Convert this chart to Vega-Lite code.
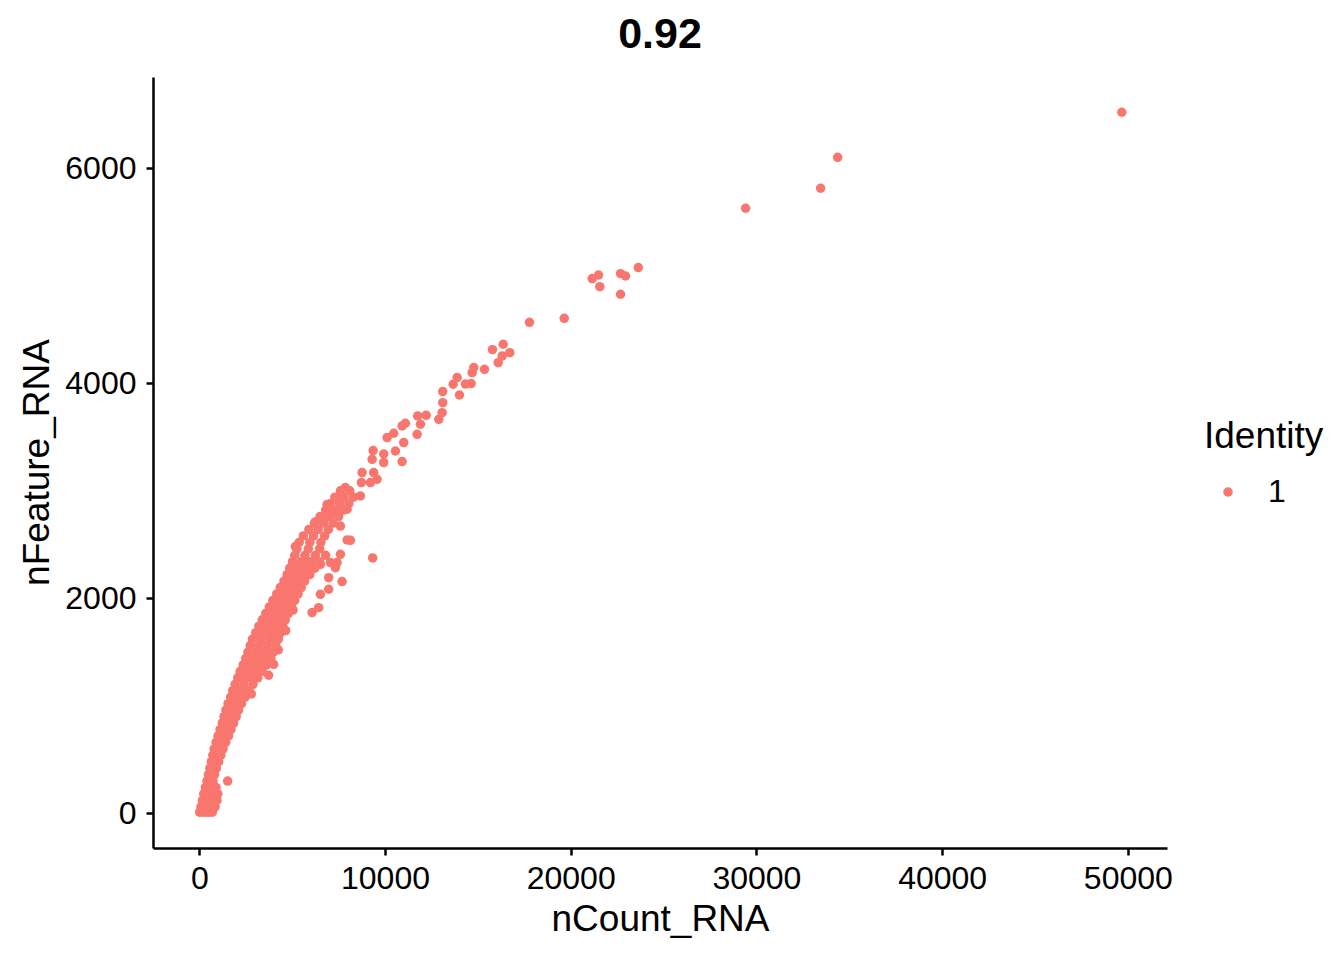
{
  "$schema": "https://vega.github.io/schema/vega-lite/v6.json",
  "width": 1014,
  "height": 771,
  "autosize": "none",
  "padding": {"left": 153, "top": 77, "right": 177, "bottom": 112},
  "background": "#FFFFFF",
  "config": {"font": "Liberation Sans", "view": {"stroke": null}},
  "title": {"text": "0.92", "fontSize": 43, "fontWeight": "bold", "anchor": "middle", "baseline": "alphabetic", "offset": 26, "dy": 40, "color": "#000000"},
  "data": {"values": [
    {"nCount_RNA": 20, "nFeature_RNA": 10, "ident": "1"},
    {"nCount_RNA": 180, "nFeature_RNA": 10, "ident": "1"},
    {"nCount_RNA": 350, "nFeature_RNA": 10, "ident": "1"},
    {"nCount_RNA": 520, "nFeature_RNA": 10, "ident": "1"},
    {"nCount_RNA": 700, "nFeature_RNA": 10, "ident": "1"},
    {"nCount_RNA": 90, "nFeature_RNA": 60, "ident": "1"},
    {"nCount_RNA": 260, "nFeature_RNA": 60, "ident": "1"},
    {"nCount_RNA": 430, "nFeature_RNA": 60, "ident": "1"},
    {"nCount_RNA": 620, "nFeature_RNA": 60, "ident": "1"},
    {"nCount_RNA": 850, "nFeature_RNA": 60, "ident": "1"},
    {"nCount_RNA": 160, "nFeature_RNA": 120, "ident": "1"},
    {"nCount_RNA": 330, "nFeature_RNA": 120, "ident": "1"},
    {"nCount_RNA": 500, "nFeature_RNA": 120, "ident": "1"},
    {"nCount_RNA": 650, "nFeature_RNA": 120, "ident": "1"},
    {"nCount_RNA": 950, "nFeature_RNA": 120, "ident": "1"},
    {"nCount_RNA": 240, "nFeature_RNA": 180, "ident": "1"},
    {"nCount_RNA": 400, "nFeature_RNA": 180, "ident": "1"},
    {"nCount_RNA": 560, "nFeature_RNA": 180, "ident": "1"},
    {"nCount_RNA": 700, "nFeature_RNA": 180, "ident": "1"},
    {"nCount_RNA": 1000, "nFeature_RNA": 180, "ident": "1"},
    {"nCount_RNA": 330, "nFeature_RNA": 240, "ident": "1"},
    {"nCount_RNA": 490, "nFeature_RNA": 240, "ident": "1"},
    {"nCount_RNA": 680, "nFeature_RNA": 240, "ident": "1"},
    {"nCount_RNA": 900, "nFeature_RNA": 240, "ident": "1"},
    {"nCount_RNA": 410, "nFeature_RNA": 300, "ident": "1"},
    {"nCount_RNA": 570, "nFeature_RNA": 300, "ident": "1"},
    {"nCount_RNA": 740, "nFeature_RNA": 300, "ident": "1"},
    {"nCount_RNA": 490, "nFeature_RNA": 360, "ident": "1"},
    {"nCount_RNA": 650, "nFeature_RNA": 360, "ident": "1"},
    {"nCount_RNA": 820, "nFeature_RNA": 360, "ident": "1"},
    {"nCount_RNA": 570, "nFeature_RNA": 420, "ident": "1"},
    {"nCount_RNA": 740, "nFeature_RNA": 420, "ident": "1"},
    {"nCount_RNA": 920, "nFeature_RNA": 420, "ident": "1"},
    {"nCount_RNA": 650, "nFeature_RNA": 480, "ident": "1"},
    {"nCount_RNA": 840, "nFeature_RNA": 480, "ident": "1"},
    {"nCount_RNA": 1040, "nFeature_RNA": 480, "ident": "1"},
    {"nCount_RNA": 730, "nFeature_RNA": 540, "ident": "1"},
    {"nCount_RNA": 940, "nFeature_RNA": 540, "ident": "1"},
    {"nCount_RNA": 1160, "nFeature_RNA": 540, "ident": "1"},
    {"nCount_RNA": 800, "nFeature_RNA": 600, "ident": "1"},
    {"nCount_RNA": 1040, "nFeature_RNA": 600, "ident": "1"},
    {"nCount_RNA": 1280, "nFeature_RNA": 600, "ident": "1"},
    {"nCount_RNA": 900, "nFeature_RNA": 660, "ident": "1"},
    {"nCount_RNA": 1160, "nFeature_RNA": 660, "ident": "1"},
    {"nCount_RNA": 1420, "nFeature_RNA": 660, "ident": "1"},
    {"nCount_RNA": 1010, "nFeature_RNA": 720, "ident": "1"},
    {"nCount_RNA": 1290, "nFeature_RNA": 720, "ident": "1"},
    {"nCount_RNA": 1570, "nFeature_RNA": 720, "ident": "1"},
    {"nCount_RNA": 1120, "nFeature_RNA": 780, "ident": "1"},
    {"nCount_RNA": 1410, "nFeature_RNA": 780, "ident": "1"},
    {"nCount_RNA": 1710, "nFeature_RNA": 780, "ident": "1"},
    {"nCount_RNA": 1240, "nFeature_RNA": 840, "ident": "1"},
    {"nCount_RNA": 1530, "nFeature_RNA": 840, "ident": "1"},
    {"nCount_RNA": 1850, "nFeature_RNA": 840, "ident": "1"},
    {"nCount_RNA": 1330, "nFeature_RNA": 900, "ident": "1"},
    {"nCount_RNA": 1650, "nFeature_RNA": 900, "ident": "1"},
    {"nCount_RNA": 1990, "nFeature_RNA": 900, "ident": "1"},
    {"nCount_RNA": 1430, "nFeature_RNA": 960, "ident": "1"},
    {"nCount_RNA": 1770, "nFeature_RNA": 960, "ident": "1"},
    {"nCount_RNA": 2110, "nFeature_RNA": 960, "ident": "1"},
    {"nCount_RNA": 1550, "nFeature_RNA": 1020, "ident": "1"},
    {"nCount_RNA": 1900, "nFeature_RNA": 1020, "ident": "1"},
    {"nCount_RNA": 2270, "nFeature_RNA": 1020, "ident": "1"},
    {"nCount_RNA": 1690, "nFeature_RNA": 1080, "ident": "1"},
    {"nCount_RNA": 2080, "nFeature_RNA": 1080, "ident": "1"},
    {"nCount_RNA": 2460, "nFeature_RNA": 1080, "ident": "1"},
    {"nCount_RNA": 2800, "nFeature_RNA": 1110, "ident": "1"},
    {"nCount_RNA": 1800, "nFeature_RNA": 1140, "ident": "1"},
    {"nCount_RNA": 2230, "nFeature_RNA": 1140, "ident": "1"},
    {"nCount_RNA": 2670, "nFeature_RNA": 1140, "ident": "1"},
    {"nCount_RNA": 1930, "nFeature_RNA": 1200, "ident": "1"},
    {"nCount_RNA": 2400, "nFeature_RNA": 1200, "ident": "1"},
    {"nCount_RNA": 2890, "nFeature_RNA": 1200, "ident": "1"},
    {"nCount_RNA": 2070, "nFeature_RNA": 1260, "ident": "1"},
    {"nCount_RNA": 2430, "nFeature_RNA": 1260, "ident": "1"},
    {"nCount_RNA": 2790, "nFeature_RNA": 1260, "ident": "1"},
    {"nCount_RNA": 3150, "nFeature_RNA": 1260, "ident": "1"},
    {"nCount_RNA": 2200, "nFeature_RNA": 1320, "ident": "1"},
    {"nCount_RNA": 2600, "nFeature_RNA": 1320, "ident": "1"},
    {"nCount_RNA": 3000, "nFeature_RNA": 1320, "ident": "1"},
    {"nCount_RNA": 3380, "nFeature_RNA": 1320, "ident": "1"},
    {"nCount_RNA": 2360, "nFeature_RNA": 1380, "ident": "1"},
    {"nCount_RNA": 2780, "nFeature_RNA": 1380, "ident": "1"},
    {"nCount_RNA": 3200, "nFeature_RNA": 1380, "ident": "1"},
    {"nCount_RNA": 3620, "nFeature_RNA": 1380, "ident": "1"},
    {"nCount_RNA": 2500, "nFeature_RNA": 1440, "ident": "1"},
    {"nCount_RNA": 2950, "nFeature_RNA": 1440, "ident": "1"},
    {"nCount_RNA": 3400, "nFeature_RNA": 1440, "ident": "1"},
    {"nCount_RNA": 3850, "nFeature_RNA": 1440, "ident": "1"},
    {"nCount_RNA": 2620, "nFeature_RNA": 1500, "ident": "1"},
    {"nCount_RNA": 3080, "nFeature_RNA": 1500, "ident": "1"},
    {"nCount_RNA": 3540, "nFeature_RNA": 1500, "ident": "1"},
    {"nCount_RNA": 3990, "nFeature_RNA": 1500, "ident": "1"},
    {"nCount_RNA": 4250, "nFeature_RNA": 1520, "ident": "1"},
    {"nCount_RNA": 2740, "nFeature_RNA": 1560, "ident": "1"},
    {"nCount_RNA": 3200, "nFeature_RNA": 1560, "ident": "1"},
    {"nCount_RNA": 3660, "nFeature_RNA": 1560, "ident": "1"},
    {"nCount_RNA": 4120, "nFeature_RNA": 1560, "ident": "1"},
    {"nCount_RNA": 2860, "nFeature_RNA": 1620, "ident": "1"},
    {"nCount_RNA": 3330, "nFeature_RNA": 1620, "ident": "1"},
    {"nCount_RNA": 3800, "nFeature_RNA": 1620, "ident": "1"},
    {"nCount_RNA": 4260, "nFeature_RNA": 1620, "ident": "1"},
    {"nCount_RNA": 3040, "nFeature_RNA": 1680, "ident": "1"},
    {"nCount_RNA": 3490, "nFeature_RNA": 1680, "ident": "1"},
    {"nCount_RNA": 3930, "nFeature_RNA": 1680, "ident": "1"},
    {"nCount_RNA": 4380, "nFeature_RNA": 1680, "ident": "1"},
    {"nCount_RNA": 4650, "nFeature_RNA": 1700, "ident": "1"},
    {"nCount_RNA": 3210, "nFeature_RNA": 1740, "ident": "1"},
    {"nCount_RNA": 3640, "nFeature_RNA": 1740, "ident": "1"},
    {"nCount_RNA": 4070, "nFeature_RNA": 1740, "ident": "1"},
    {"nCount_RNA": 4500, "nFeature_RNA": 1740, "ident": "1"},
    {"nCount_RNA": 3390, "nFeature_RNA": 1800, "ident": "1"},
    {"nCount_RNA": 3800, "nFeature_RNA": 1800, "ident": "1"},
    {"nCount_RNA": 4220, "nFeature_RNA": 1800, "ident": "1"},
    {"nCount_RNA": 4630, "nFeature_RNA": 1800, "ident": "1"},
    {"nCount_RNA": 3580, "nFeature_RNA": 1860, "ident": "1"},
    {"nCount_RNA": 3990, "nFeature_RNA": 1860, "ident": "1"},
    {"nCount_RNA": 4390, "nFeature_RNA": 1860, "ident": "1"},
    {"nCount_RNA": 4800, "nFeature_RNA": 1860, "ident": "1"},
    {"nCount_RNA": 5050, "nFeature_RNA": 1890, "ident": "1"},
    {"nCount_RNA": 3770, "nFeature_RNA": 1920, "ident": "1"},
    {"nCount_RNA": 4170, "nFeature_RNA": 1920, "ident": "1"},
    {"nCount_RNA": 4570, "nFeature_RNA": 1920, "ident": "1"},
    {"nCount_RNA": 4970, "nFeature_RNA": 1920, "ident": "1"},
    {"nCount_RNA": 3960, "nFeature_RNA": 1980, "ident": "1"},
    {"nCount_RNA": 4350, "nFeature_RNA": 1980, "ident": "1"},
    {"nCount_RNA": 4750, "nFeature_RNA": 1980, "ident": "1"},
    {"nCount_RNA": 5140, "nFeature_RNA": 1980, "ident": "1"},
    {"nCount_RNA": 4170, "nFeature_RNA": 2040, "ident": "1"},
    {"nCount_RNA": 4550, "nFeature_RNA": 2040, "ident": "1"},
    {"nCount_RNA": 4940, "nFeature_RNA": 2040, "ident": "1"},
    {"nCount_RNA": 5320, "nFeature_RNA": 2040, "ident": "1"},
    {"nCount_RNA": 4360, "nFeature_RNA": 2100, "ident": "1"},
    {"nCount_RNA": 4740, "nFeature_RNA": 2100, "ident": "1"},
    {"nCount_RNA": 5110, "nFeature_RNA": 2100, "ident": "1"},
    {"nCount_RNA": 5490, "nFeature_RNA": 2100, "ident": "1"},
    {"nCount_RNA": 4560, "nFeature_RNA": 2160, "ident": "1"},
    {"nCount_RNA": 4930, "nFeature_RNA": 2160, "ident": "1"},
    {"nCount_RNA": 5300, "nFeature_RNA": 2160, "ident": "1"},
    {"nCount_RNA": 5670, "nFeature_RNA": 2160, "ident": "1"},
    {"nCount_RNA": 4730, "nFeature_RNA": 2220, "ident": "1"},
    {"nCount_RNA": 5140, "nFeature_RNA": 2220, "ident": "1"},
    {"nCount_RNA": 5540, "nFeature_RNA": 2220, "ident": "1"},
    {"nCount_RNA": 5950, "nFeature_RNA": 2220, "ident": "1"},
    {"nCount_RNA": 4870, "nFeature_RNA": 2280, "ident": "1"},
    {"nCount_RNA": 5320, "nFeature_RNA": 2280, "ident": "1"},
    {"nCount_RNA": 5770, "nFeature_RNA": 2280, "ident": "1"},
    {"nCount_RNA": 6220, "nFeature_RNA": 2280, "ident": "1"},
    {"nCount_RNA": 5020, "nFeature_RNA": 2340, "ident": "1"},
    {"nCount_RNA": 5500, "nFeature_RNA": 2340, "ident": "1"},
    {"nCount_RNA": 5990, "nFeature_RNA": 2340, "ident": "1"},
    {"nCount_RNA": 6480, "nFeature_RNA": 2340, "ident": "1"},
    {"nCount_RNA": 5140, "nFeature_RNA": 2400, "ident": "1"},
    {"nCount_RNA": 5690, "nFeature_RNA": 2400, "ident": "1"},
    {"nCount_RNA": 6250, "nFeature_RNA": 2400, "ident": "1"},
    {"nCount_RNA": 6800, "nFeature_RNA": 2400, "ident": "1"},
    {"nCount_RNA": 5260, "nFeature_RNA": 2460, "ident": "1"},
    {"nCount_RNA": 5870, "nFeature_RNA": 2460, "ident": "1"},
    {"nCount_RNA": 6480, "nFeature_RNA": 2460, "ident": "1"},
    {"nCount_RNA": 5380, "nFeature_RNA": 2520, "ident": "1"},
    {"nCount_RNA": 5950, "nFeature_RNA": 2520, "ident": "1"},
    {"nCount_RNA": 6550, "nFeature_RNA": 2520, "ident": "1"},
    {"nCount_RNA": 5600, "nFeature_RNA": 2580, "ident": "1"},
    {"nCount_RNA": 6150, "nFeature_RNA": 2580, "ident": "1"},
    {"nCount_RNA": 6750, "nFeature_RNA": 2580, "ident": "1"},
    {"nCount_RNA": 5900, "nFeature_RNA": 2640, "ident": "1"},
    {"nCount_RNA": 6400, "nFeature_RNA": 2640, "ident": "1"},
    {"nCount_RNA": 6950, "nFeature_RNA": 2640, "ident": "1"},
    {"nCount_RNA": 6200, "nFeature_RNA": 2700, "ident": "1"},
    {"nCount_RNA": 6700, "nFeature_RNA": 2700, "ident": "1"},
    {"nCount_RNA": 7200, "nFeature_RNA": 2700, "ident": "1"},
    {"nCount_RNA": 6500, "nFeature_RNA": 2760, "ident": "1"},
    {"nCount_RNA": 7000, "nFeature_RNA": 2760, "ident": "1"},
    {"nCount_RNA": 7500, "nFeature_RNA": 2760, "ident": "1"},
    {"nCount_RNA": 6800, "nFeature_RNA": 2820, "ident": "1"},
    {"nCount_RNA": 7300, "nFeature_RNA": 2820, "ident": "1"},
    {"nCount_RNA": 7750, "nFeature_RNA": 2820, "ident": "1"},
    {"nCount_RNA": 7050, "nFeature_RNA": 2880, "ident": "1"},
    {"nCount_RNA": 7550, "nFeature_RNA": 2880, "ident": "1"},
    {"nCount_RNA": 8050, "nFeature_RNA": 2880, "ident": "1"},
    {"nCount_RNA": 7300, "nFeature_RNA": 2940, "ident": "1"},
    {"nCount_RNA": 7800, "nFeature_RNA": 2940, "ident": "1"},
    {"nCount_RNA": 8300, "nFeature_RNA": 2940, "ident": "1"},
    {"nCount_RNA": 7600, "nFeature_RNA": 3000, "ident": "1"},
    {"nCount_RNA": 8100, "nFeature_RNA": 3000, "ident": "1"},
    {"nCount_RNA": 1525, "nFeature_RNA": 300, "ident": "1"},
    {"nCount_RNA": 3734, "nFeature_RNA": 1284, "ident": "1"},
    {"nCount_RNA": 4003, "nFeature_RNA": 1386, "ident": "1"},
    {"nCount_RNA": 6428, "nFeature_RNA": 1913, "ident": "1"},
    {"nCount_RNA": 6072, "nFeature_RNA": 1867, "ident": "1"},
    {"nCount_RNA": 7419, "nFeature_RNA": 2332, "ident": "1"},
    {"nCount_RNA": 6520, "nFeature_RNA": 2037, "ident": "1"},
    {"nCount_RNA": 6967, "nFeature_RNA": 2084, "ident": "1"},
    {"nCount_RNA": 6967, "nFeature_RNA": 2192, "ident": "1"},
    {"nCount_RNA": 7689, "nFeature_RNA": 2155, "ident": "1"},
    {"nCount_RNA": 6520, "nFeature_RNA": 2316, "ident": "1"},
    {"nCount_RNA": 7328, "nFeature_RNA": 2285, "ident": "1"},
    {"nCount_RNA": 7058, "nFeature_RNA": 2332, "ident": "1"},
    {"nCount_RNA": 7597, "nFeature_RNA": 2409, "ident": "1"},
    {"nCount_RNA": 5172, "nFeature_RNA": 2481, "ident": "1"},
    {"nCount_RNA": 9337, "nFeature_RNA": 2375, "ident": "1"},
    {"nCount_RNA": 8136, "nFeature_RNA": 2539, "ident": "1"},
    {"nCount_RNA": 7958, "nFeature_RNA": 2542, "ident": "1"},
    {"nCount_RNA": 7597, "nFeature_RNA": 2672, "ident": "1"},
    {"nCount_RNA": 6697, "nFeature_RNA": 2735, "ident": "1"},
    {"nCount_RNA": 6250, "nFeature_RNA": 2710, "ident": "1"},
    {"nCount_RNA": 7236, "nFeature_RNA": 2797, "ident": "1"},
    {"nCount_RNA": 7958, "nFeature_RNA": 2828, "ident": "1"},
    {"nCount_RNA": 6881, "nFeature_RNA": 2872, "ident": "1"},
    {"nCount_RNA": 7689, "nFeature_RNA": 2937, "ident": "1"},
    {"nCount_RNA": 8675, "nFeature_RNA": 2952, "ident": "1"},
    {"nCount_RNA": 7866, "nFeature_RNA": 3030, "ident": "1"},
    {"nCount_RNA": 9574, "nFeature_RNA": 3107, "ident": "1"},
    {"nCount_RNA": 9213, "nFeature_RNA": 3076, "ident": "1"},
    {"nCount_RNA": 8729, "nFeature_RNA": 3076, "ident": "1"},
    {"nCount_RNA": 9391, "nFeature_RNA": 3169, "ident": "1"},
    {"nCount_RNA": 8766, "nFeature_RNA": 3169, "ident": "1"},
    {"nCount_RNA": 9930, "nFeature_RNA": 3262, "ident": "1"},
    {"nCount_RNA": 9305, "nFeature_RNA": 3293, "ident": "1"},
    {"nCount_RNA": 9930, "nFeature_RNA": 3342, "ident": "1"},
    {"nCount_RNA": 9359, "nFeature_RNA": 3374, "ident": "1"},
    {"nCount_RNA": 10922, "nFeature_RNA": 3272, "ident": "1"},
    {"nCount_RNA": 10560, "nFeature_RNA": 3370, "ident": "1"},
    {"nCount_RNA": 10113, "nFeature_RNA": 3495, "ident": "1"},
    {"nCount_RNA": 10469, "nFeature_RNA": 3535, "ident": "1"},
    {"nCount_RNA": 11008, "nFeature_RNA": 3448, "ident": "1"},
    {"nCount_RNA": 10922, "nFeature_RNA": 3603, "ident": "1"},
    {"nCount_RNA": 11099, "nFeature_RNA": 3628, "ident": "1"},
    {"nCount_RNA": 11730, "nFeature_RNA": 3525, "ident": "1"},
    {"nCount_RNA": 11907, "nFeature_RNA": 3619, "ident": "1"},
    {"nCount_RNA": 11762, "nFeature_RNA": 3696, "ident": "1"},
    {"nCount_RNA": 12215, "nFeature_RNA": 3702, "ident": "1"},
    {"nCount_RNA": 12894, "nFeature_RNA": 3665, "ident": "1"},
    {"nCount_RNA": 13077, "nFeature_RNA": 3727, "ident": "1"},
    {"nCount_RNA": 13109, "nFeature_RNA": 3820, "ident": "1"},
    {"nCount_RNA": 13109, "nFeature_RNA": 3923, "ident": "1"},
    {"nCount_RNA": 14009, "nFeature_RNA": 3891, "ident": "1"},
    {"nCount_RNA": 13669, "nFeature_RNA": 3991, "ident": "1"},
    {"nCount_RNA": 13885, "nFeature_RNA": 4053, "ident": "1"},
    {"nCount_RNA": 14332, "nFeature_RNA": 3993, "ident": "1"},
    {"nCount_RNA": 14639, "nFeature_RNA": 3997, "ident": "1"},
    {"nCount_RNA": 14693, "nFeature_RNA": 4099, "ident": "1"},
    {"nCount_RNA": 14779, "nFeature_RNA": 4146, "ident": "1"},
    {"nCount_RNA": 15356, "nFeature_RNA": 4130, "ident": "1"},
    {"nCount_RNA": 16094, "nFeature_RNA": 4192, "ident": "1"},
    {"nCount_RNA": 16310, "nFeature_RNA": 4254, "ident": "1"},
    {"nCount_RNA": 16719, "nFeature_RNA": 4285, "ident": "1"},
    {"nCount_RNA": 15787, "nFeature_RNA": 4313, "ident": "1"},
    {"nCount_RNA": 16363, "nFeature_RNA": 4363, "ident": "1"},
    {"nCount_RNA": 17780, "nFeature_RNA": 4567, "ident": "1"},
    {"nCount_RNA": 19650, "nFeature_RNA": 4604, "ident": "1"},
    {"nCount_RNA": 22684, "nFeature_RNA": 4828, "ident": "1"},
    {"nCount_RNA": 21568, "nFeature_RNA": 4899, "ident": "1"},
    {"nCount_RNA": 21159, "nFeature_RNA": 4974, "ident": "1"},
    {"nCount_RNA": 21498, "nFeature_RNA": 5007, "ident": "1"},
    {"nCount_RNA": 22953, "nFeature_RNA": 4998, "ident": "1"},
    {"nCount_RNA": 22684, "nFeature_RNA": 5020, "ident": "1"},
    {"nCount_RNA": 23637, "nFeature_RNA": 5076, "ident": "1"},
    {"nCount_RNA": 29418, "nFeature_RNA": 5628, "ident": "1"},
    {"nCount_RNA": 33459, "nFeature_RNA": 5814, "ident": "1"},
    {"nCount_RNA": 34375, "nFeature_RNA": 6102, "ident": "1"},
    {"nCount_RNA": 49677, "nFeature_RNA": 6521, "ident": "1"}
  ]},
  "mark": {"type": "circle", "size": 90, "opacity": 1, "color": "#F8766D"},
  "encoding": {
    "x": {
      "field": "nCount_RNA",
      "type": "quantitative",
      "scale": {"domain": [-2493, 52110], "nice": false, "zero": false},
      "axis": {
        "title": "nCount_RNA",
        "values": [0, 10000, 20000, 30000, 40000, 50000],
        "format": "d",
        "grid": false,
        "domainColor": "#000000",
        "domainWidth": 2.5,
        "tickColor": "#000000",
        "tickWidth": 2.5,
        "tickSize": 7,
        "labelFontSize": 32,
        "labelColor": "#000000",
        "labelPadding": 8,
        "labelFlush": false,
        "labelOverlap": false,
        "titleFontSize": 37,
        "titleFontWeight": "normal",
        "titleColor": "#000000",
        "titleY": 82,
        "titleBaseline": "alphabetic"
      }
    },
    "y": {
      "field": "nFeature_RNA",
      "type": "quantitative",
      "scale": {"domain": [-323, 6849], "nice": false, "zero": false},
      "axis": {
        "title": "nFeature_RNA",
        "values": [0, 2000, 4000, 6000],
        "format": "d",
        "grid": false,
        "domainColor": "#000000",
        "domainWidth": 2.5,
        "tickColor": "#000000",
        "tickWidth": 2.5,
        "tickSize": 7,
        "labelFontSize": 32,
        "labelColor": "#000000",
        "labelPadding": 10,
        "labelFlush": false,
        "labelOverlap": false,
        "titleFontSize": 37,
        "titleFontWeight": "normal",
        "titleColor": "#000000",
        "titleAngle": -90,
        "titleX": -105,
        "titleY": 385,
        "titleAlign": "center",
        "titleBaseline": "alphabetic"
      }
    },
    "color": {
      "field": "ident",
      "type": "nominal",
      "scale": {"range": ["#F8766D"]},
      "legend": {
        "title": "Identity",
        "orient": "none",
        "legendX": 1051,
        "legendY": 342,
        "padding": 0,
        "titleFontSize": 37,
        "titleFontWeight": "normal",
        "titleColor": "#000000",
        "titlePadding": 20,
        "labelFontSize": 32,
        "labelColor": "#000000",
        "labelOffset": 24,
        "symbolType": "circle",
        "symbolSize": 90,
        "symbolOffset": 8,
        "symbolStrokeWidth": 0,
        "symbolOpacity": 1
      }
    }
  }
}
